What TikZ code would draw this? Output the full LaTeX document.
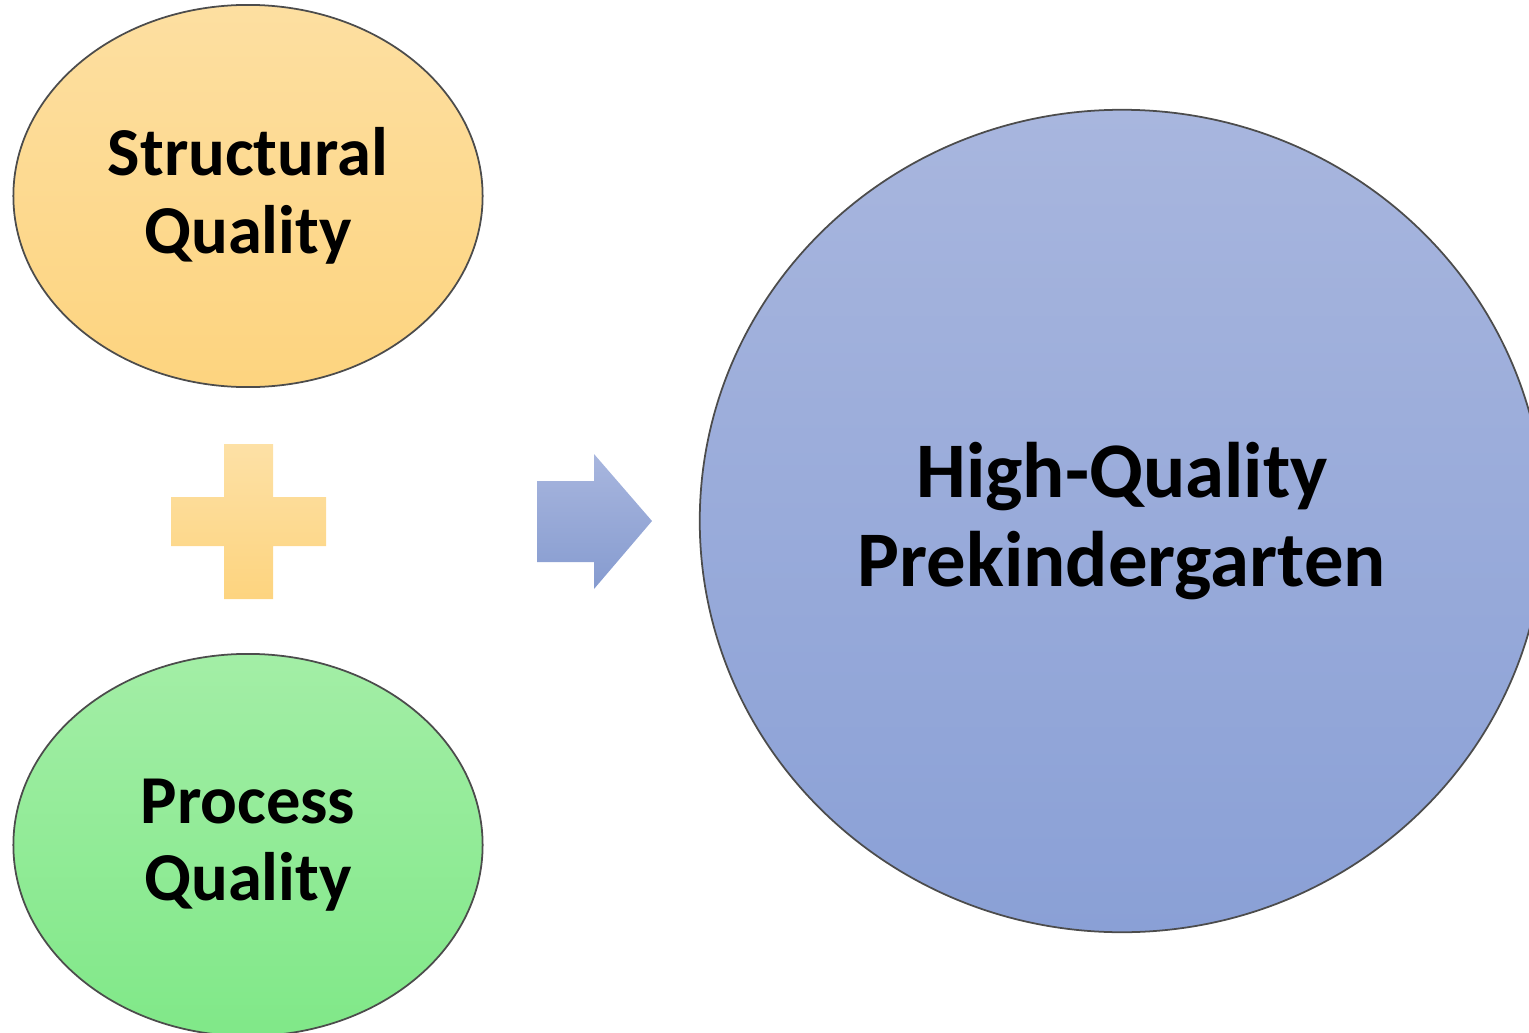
\documentclass[tikz,border=0pt]{standalone}
\usepackage{fontspec}
\setmainfont{Carlito}
\usetikzlibrary{shapes.geometric}

\definecolor{orangetop}{HTML}{FDDFA1}
\definecolor{orangebot}{HTML}{FDD47F}
\definecolor{greentop}{HTML}{A3EEA6}
\definecolor{greenbot}{HTML}{80E888}
\definecolor{bluetop}{HTML}{A8B6DE}
\definecolor{bluebot}{HTML}{8AA0D6}

\begin{document}
\begin{tikzpicture}[x=0.01cm,y=-0.01cm,
  part node/.style={ellipse,draw=gray!60!black,line width=0.5pt,inner sep=0pt,
    minimum width=4.69cm,minimum height=3.82cm,align=center,
    font=\fontsize{19.5}{22}\selectfont\bfseries},
  goal node/.style={ellipse,draw=gray!60!black,line width=0.5pt,inner sep=0pt,
    minimum width=8.44cm,minimum height=8.22cm,align=center,
    font=\fontsize{22.4}{25.2}\selectfont\bfseries}]

 \useasboundingbox (0,0) rectangle (1529,1033);
 \clip (0,0) rectangle (1529,1033);

 \node[part node,top color=orangetop,bottom color=orangebot] (structural) at (248,196) {Structural\\Quality};
 \node[part node,top color=greentop,bottom color=greenbot] (process) at (248,845) {Process\\Quality};
 \node[goal node,top color=bluetop,bottom color=bluebot] (prek) at (1122,521) {High-Quality\\Prekindergarten};

 % plus between the two parts
 \shade[top color=orangetop!95!white,bottom color=orangebot]
   (224,444) -- (273,444) -- (273,497) -- (326,497) -- (326,546) -- (273,546)
   -- (273,599) -- (224,599) -- (224,546) -- (171,546) -- (171,497) -- (224,497) -- cycle;

 % block arrow towards the result
 \shade[top color=bluetop,bottom color=bluebot!97!black]
   (537,481) -- (594,481) -- (594,454) -- (652,521) -- (594,589) -- (594,562) -- (537,562) -- cycle;

\end{tikzpicture}
\end{document}
